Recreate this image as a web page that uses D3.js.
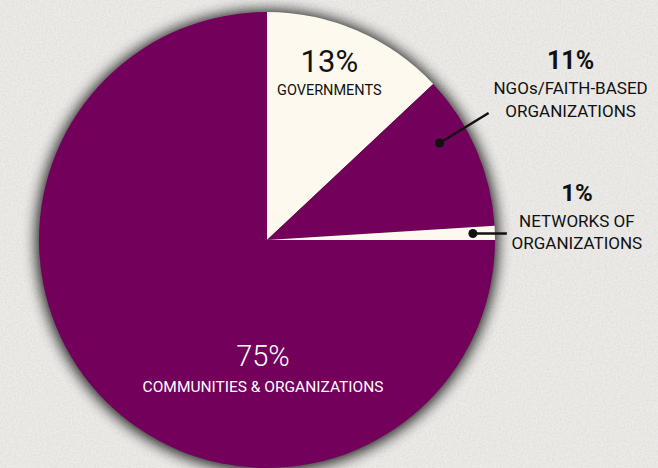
<!DOCTYPE html>
<html>
<head>
<meta charset="utf-8">
<script src="https://cdn.jsdelivr.net/npm/d3@7"></script>
<style>
  html, body { margin: 0; padding: 0; background: #ecebe8; }
  svg { display: block; }
  text { font-family: Roboto, "DejaVu Sans", sans-serif; }
</style>
</head>
<body>
<svg id="chart" width="658" height="468"></svg>
<script>
// data
const categories = ['GOVERNMENTS', 'NGOs/FAITH-BASED|ORGANIZATIONS', 'NETWORKS OF|ORGANIZATIONS', 'COMMUNITIES & ORGANIZATIONS'];
const shares = [13, 11, 1, 75];
const sliceColors = ['#fdf9ee', '#73005a', '#fdf9ee', '#73005a'];

const W = 658, H = 468;
const cx = 267, cy = 240, R = 228;

const svg = d3.select('#chart');
const defs = svg.append('defs');

// paper texture
const tex = defs.append('filter').attr('id', 'paper').attr('x', 0).attr('y', 0).attr('width', '100%').attr('height', '100%');
tex.append('feTurbulence').attr('type', 'fractalNoise').attr('baseFrequency', 0.55).attr('numOctaves', 3).attr('seed', 4).attr('result', 'n');
tex.append('feColorMatrix').attr('in', 'n').attr('type', 'matrix')
  .attr('values', '0 0 0 0 0.5  0 0 0 0 0.49  0 0 0 0 0.47  0 0 0 0.9 -0.3');
tex.append('feComposite').attr('in2', 'SourceGraphic').attr('operator', 'in');

// soft halo round the pie
const sh = defs.append('filter').attr('id', 'halo').attr('x', '-20%').attr('y', '-20%').attr('width', '140%').attr('height', '140%');
sh.append('feGaussianBlur').attr('stdDeviation', 7);

svg.append('rect').attr('width', W).attr('height', H).attr('fill', '#ecebe8');
svg.append('rect').attr('width', W).attr('height', H).attr('fill', '#ecebe8').attr('filter', 'url(#paper)').attr('opacity', 0.5);

const g = svg.append('g').attr('transform', `translate(${cx},${cy})`);

g.append('circle').attr('r', R + 3).attr('cy', 1).attr('fill', '#000').attr('opacity', 0.85).attr('filter', 'url(#halo)');

const pie = d3.pie().sort(null).value(d => d)(shares);
const arc = d3.arc().innerRadius(0).outerRadius(R);

g.selectAll('path.slice').data(pie).enter().append('path')
  .attr('class', 'slice')
  .attr('d', arc)
  .attr('fill', (d, i) => sliceColors[i]);

// label layout (per slice)
const polar = (a, r) => [r * Math.sin(a), -r * Math.cos(a)];

// 13% inside
{
  const d = pie[0];
  const [x, y] = polar((d.startAngle + d.endAngle) / 2 - 0.03, 166);
  g.append('text').attr('x', x + 1).attr('y', y - 14).attr('text-anchor', 'middle')
    .attr('font-size', 31).attr('font-weight', 400).attr('fill', '#111').text(shares[0] + '%');
  g.append('text').attr('x', x + 1).attr('y', y + 9).attr('text-anchor', 'middle')
    .attr('font-size', 14.5).attr('fill', '#111').text(categories[0]);
}

// 11% outside with leader
{
  const d = pie[1];
  const a = d.startAngle + (d.endAngle - d.startAngle) * 0.35;
  const [x0, y0] = polar(a, 198);
  const x1 = x0 + 49, y1 = y0 - 30;
  g.append('line').attr('x1', x0).attr('y1', y0).attr('x2', x1).attr('y2', y1)
    .attr('stroke', '#111').attr('stroke-width', 2.5);
  g.append('circle').attr('cx', x0).attr('cy', y0).attr('r', 4.5).attr('fill', '#111');
  const lx = x1 + 82;
  g.append('text').attr('x', lx).attr('y', y1 - 44).attr('text-anchor', 'middle')
    .attr('font-size', 25).attr('font-weight', 700).attr('fill', '#111').text(shares[1] + '%');
  categories[1].split('|').forEach((t, k) => {
    g.append('text').attr('x', lx).attr('y', y1 - 19 + k * 23).attr('text-anchor', 'middle')
      .attr('font-size', 17).attr('fill', '#111').text(t);
  });
}

// 1% outside with leader
{
  const d = pie[2];
  const a = (d.startAngle + d.endAngle) / 2;
  const [x0, y0] = polar(a, 206);
  const x1 = x0 + 34;
  g.append('line').attr('x1', x0).attr('y1', y0).attr('x2', x1).attr('y2', y0)
    .attr('stroke', '#111').attr('stroke-width', 2.5);
  g.append('circle').attr('cx', x0).attr('cy', y0).attr('r', 4.5).attr('fill', '#111');
  const lx = x1 + 70;
  g.append('text').attr('x', lx).attr('y', y0 - 33).attr('text-anchor', 'middle')
    .attr('font-size', 24).attr('font-weight', 700).attr('fill', '#111').text(shares[2] + '%');
  categories[2].split('|').forEach((t, k) => {
    g.append('text').attr('x', lx).attr('y', y0 - 7 + k * 22).attr('text-anchor', 'middle')
      .attr('font-size', 17).attr('fill', '#111').text(t);
  });
}

// 75% inside
{
  const lx = -4, ly = 126;
  g.append('text').attr('x', lx).attr('y', ly).attr('text-anchor', 'middle')
    .attr('font-size', 29).attr('font-weight', 300).attr('fill', '#fff').text(shares[3] + '%');
  g.append('text').attr('x', lx).attr('y', ly + 26).attr('text-anchor', 'middle')
    .attr('font-size', 15.5).attr('fill', '#fff').text(categories[3]);
}
</script>
</body>
</html>
